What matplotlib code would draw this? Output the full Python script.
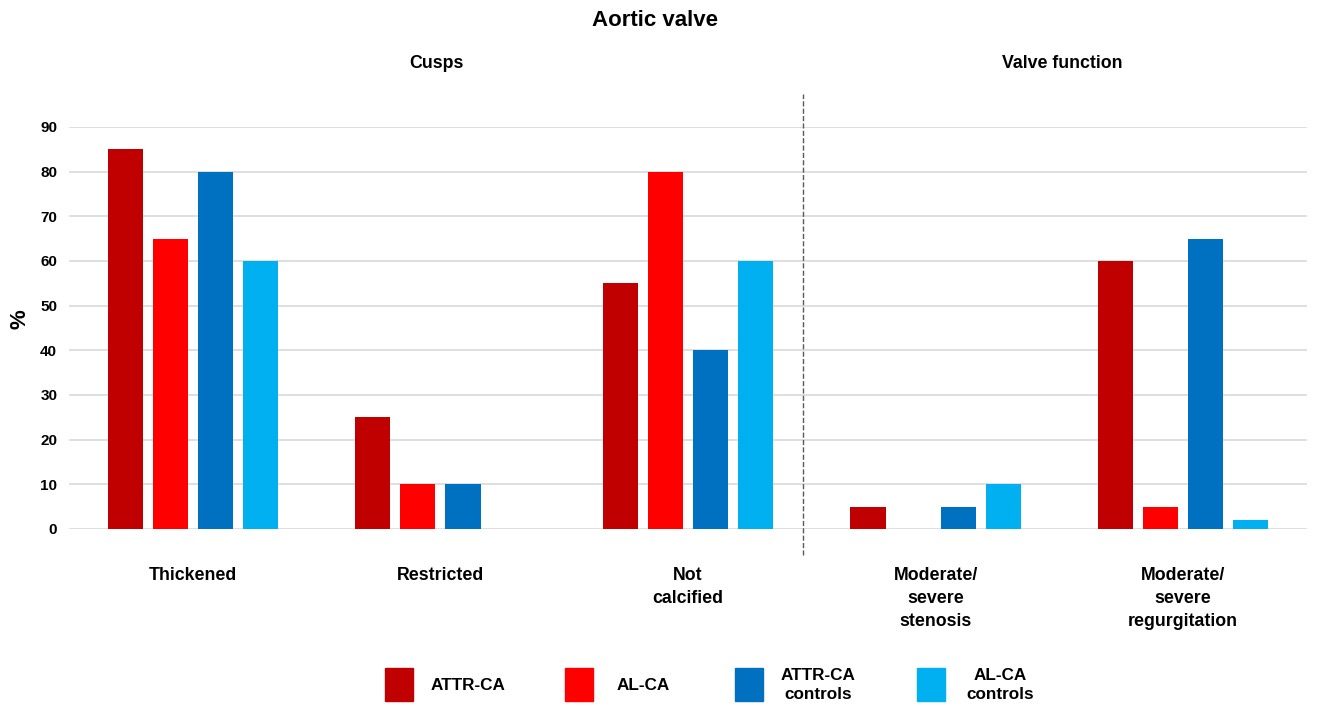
import matplotlib.pyplot as plt
import numpy as np
from matplotlib.patches import Rectangle

plt.rcParams['font.family'] = ['Liberation Sans', 'DejaVu Sans']
plt.rcParams['font.weight'] = 'bold'

# --- data ---
categories = ["Thickened", "Restricted", "Not\ncalcified",
              "Moderate/\nsevere\nstenosis", "Moderate/\nsevere\nregurgitation"]
series_names = ["ATTR-CA", "AL-CA", "ATTR-CA\ncontrols", "AL-CA\ncontrols"]
attr_ca = [85, 25, 55, 5, 60]
al_ca = [65, 10, 80, 0, 5]
attr_ctrl = [80, 10, 40, 5, 65]
al_ctrl = [60, 0, 60, 10, 2]
colors = ["#C00000", "#FF0000", "#0070C0", "#00B0F0"]
y_ticks = [0, 10, 20, 30, 40, 50, 60, 70, 80, 90]

all_series = [attr_ca, al_ca, attr_ctrl, al_ctrl]

fig = plt.figure(figsize=(13.2, 7.06), dpi=100)
ax = fig.add_axes([69 / 1320, (706 - 529) / 706, (1307 - 69) / 1320, 402 / 706])

x = np.arange(len(categories))
width = 0.142
pitch = 0.182
for i, (vals, col) in enumerate(zip(all_series, colors)):
    offs = (i - 1.5) * pitch
    ax.bar(x + offs, vals, width, color=col, zorder=3)

ax.set_xlim(-0.5, len(categories) - 0.5)
ax.set_ylim(0, 90)
ax.set_yticks(y_ticks)
ax.set_yticklabels([str(t) for t in y_ticks], fontsize=11, fontweight='bold')
ax.set_xticks([])
ax.grid(axis='y', color='#D9D9D9', linewidth=1.2, zorder=0)
ax.set_axisbelow(True)
for s in ax.spines.values():
    s.set_visible(False)
ax.tick_params(axis='y', length=0, pad=8.5)

# category labels under the groups
for xi, lab in zip(x, categories):
    ax.text(xi, -8.6, lab, ha='center', va='top', fontsize=12.8,
            fontweight='bold', linespacing=1.45)

# dashed separator between cusps and valve function
ax.plot([2.465, 2.465], [-5.8, 97.5], color='#595959', linestyle='--',
        linewidth=1, clip_on=False)

fig.text(20 / 1320, 1 - 319 / 706, '%', rotation=90, ha='center', va='center',
         fontsize=16, fontweight='bold')

fig.text(655 / 1320, 1 - 20 / 706, 'Aortic valve', ha='center', va='center',
         fontsize=16, fontweight='bold')
fig.text(436 / 1320, 1 - 63 / 706, 'Cusps', ha='center', va='center',
         fontsize=12.8, fontweight='bold')
fig.text(1062 / 1320, 1 - 63 / 706, 'Valve function', ha='center', va='center',
         fontsize=12.8, fontweight='bold')

# legend drawn by hand
patch_x = [385, 565, 735, 917]
text_x = [468, 643, 818, 1000]
for px, tx, name, col in zip(patch_x, text_x, series_names, colors):
    fig.patches.append(Rectangle((px / 1320, 1 - 701 / 706), 28 / 1320, 33 / 706,
                                 transform=fig.transFigure, color=col))
    fig.text(tx / 1320, 1 - 685 / 706, name, ha='center', va='center',
             fontsize=12.3, fontweight='bold', linespacing=1.3)

plt.savefig('out.png', dpi=100)
